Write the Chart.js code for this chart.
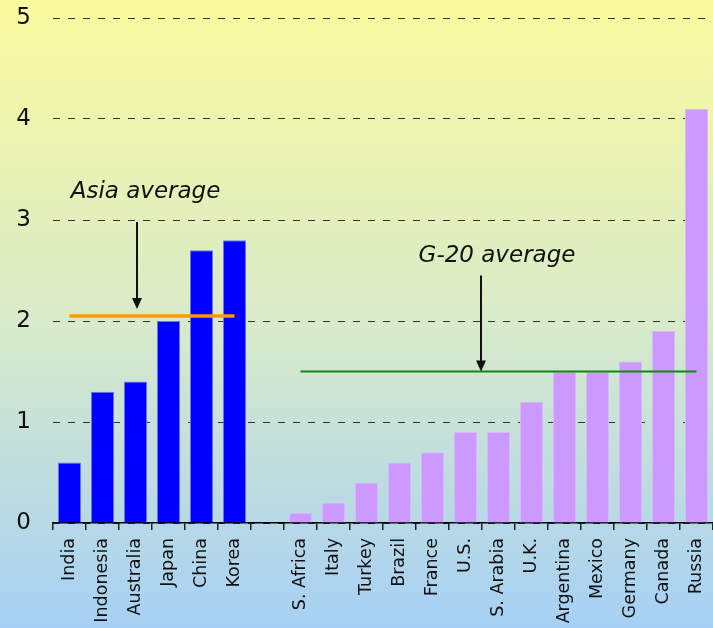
<!DOCTYPE html>
<html>
<head>
<meta charset="utf-8">
<script src="https://cdn.jsdelivr.net/npm/chart.js@4/dist/chart.umd.min.js"></script>
<style>
  html, body { margin: 0; padding: 0; }
  #wrap { width: 713px; height: 628px; position: relative; }
</style>
</head>
<body>
<div id="wrap"><canvas id="chart" width="713" height="628"></canvas></div>
<script>
// Asian economies
const asiaCountries = ['India', 'Indonesia', 'Australia', 'Japan', 'China', 'Korea'];
const asiaValues = [0.6, 1.3, 1.4, 2.0, 2.7, 2.8];
const asiaAverage = 2.05;

// Remaining G-20 economies
const g20Countries = ['S. Africa', 'Italy', 'Turkey', 'Brazil', 'France', 'U.S.', 'S. Arabia',
  'U.K.', 'Argentina', 'Mexico', 'Germany', 'Canada', 'Russia'];
const g20Values = [0.1, 0.2, 0.4, 0.6, 0.7, 0.9, 0.9, 1.2, 1.5, 1.5, 1.6, 1.9, 4.1];
const g20Average = 1.5;

// Y axis ticks
const yTicks = [0, 1, 2, 3, 4, 5];

const labels = [...asiaCountries, '', ...g20Countries];
const barValues = [...asiaValues, null, ...g20Values];
const barColors = [...asiaCountries.map(() => '#0000FF'), 'transparent', ...g20Countries.map(() => '#CC99FF')];
const barEdges = [...asiaCountries.map(() => '#7070FF'), 'transparent', ...g20Countries.map(() => '#D9B8FF')];

const asiaLine = labels.map((_, i) => i < asiaCountries.length ? asiaAverage : null);
const g20Line = labels.map((_, i) => i > asiaCountries.length ? g20Average : null);

const FONT = '"DejaVu Sans", Verdana, sans-serif';

// Full-canvas yellow-to-blue wash behind everything
const backdrop = {
  id: 'backdrop',
  beforeDraw(chart) {
    const { ctx, width, height } = chart;
    const g = ctx.createLinearGradient(0, 0, 0, height);
    g.addColorStop(0, '#FAFA9E');
    g.addColorStop(0.5, '#D9EBC8');
    g.addColorStop(1, '#A6D0F5');
    ctx.save();
    ctx.fillStyle = g;
    ctx.fillRect(0, 0, width, height);
    ctx.restore();
  }
};

// Italic captions with arrows pointing at the average lines
const callouts = {
  id: 'callouts',
  afterDatasetsDraw(chart) {
    const { ctx, scales: { x, y } } = chart;
    const between = (i) => (x.getPixelForValue(i) + x.getPixelForValue(i + 1)) / 2;
    const items = [
      { text: 'Asia average', tCenter: x.getPixelForValue(2) + 10, ty: 3.28, ax: x.getPixelForValue(2) + 1.5, from: 2.98, to: asiaAverage + 0.07 },
      { text: 'G-20 average', tCenter: between(12) + 15, ty: 2.64, ax: between(12) - 1, from: 2.45, to: g20Average }
    ];
    ctx.save();
    ctx.font = 'italic 23px ' + FONT;
    ctx.fillStyle = '#111';
    ctx.strokeStyle = '#111';
    ctx.textAlign = 'center';
    ctx.textBaseline = 'middle';
    items.forEach(it => {
      ctx.fillText(it.text, it.tCenter, y.getPixelForValue(it.ty));
      const y0 = y.getPixelForValue(it.from);
      const y1 = y.getPixelForValue(it.to);
      ctx.lineWidth = 2;
      ctx.beginPath();
      ctx.moveTo(it.ax, y0);
      ctx.lineTo(it.ax, y1 - 9);
      ctx.stroke();
      ctx.beginPath();
      ctx.moveTo(it.ax - 5, y1 - 11);
      ctx.lineTo(it.ax + 5, y1 - 11);
      ctx.lineTo(it.ax, y1);
      ctx.closePath();
      ctx.fill();
    });
    ctx.restore();
  }
};

new Chart(document.getElementById('chart'), {
  data: {
    labels: labels,
    datasets: [
      {
        type: 'line',
        data: asiaLine,
        borderColor: '#FF9900',
        borderWidth: 3.5,
        pointRadius: 0,
        order: 0
      },
      {
        type: 'line',
        data: g20Line,
        borderColor: '#118811',
        borderWidth: 2,
        pointRadius: 0,
        order: 0
      },
      {
        type: 'bar',
        data: barValues,
        backgroundColor: barColors,
        borderColor: barEdges,
        borderWidth: { top: 1, left: 1, right: 1, bottom: 0 },
        categoryPercentage: 1,
        barPercentage: 0.7,
        order: 1
      }
    ]
  },
  options: {
    responsive: false,
    animation: false,
    layout: { padding: { top: 18, right: 0, left: 0, bottom: 0 } },
    plugins: { legend: { display: false }, tooltip: { enabled: false } },
    scales: {
      x: {
        grid: { drawOnChartArea: false, drawTicks: true, tickLength: 7, color: '#222', lineWidth: 1.5 },
        border: { display: true, color: '#000', width: 1.5 },
        ticks: {
          autoSkip: false,
          minRotation: 90,
          maxRotation: 90,
          padding: 8,
          color: '#111',
          font: { family: FONT, size: 17.5 }
        },
        afterFit(scale) {
          scale.height = 105;
          scale.paddingLeft = 0;
          scale.paddingRight = 0;
        }
      },
      y: {
        min: 0,
        max: 5,
        afterBuildTicks(scale) { scale.ticks = yTicks.map(v => ({ value: v })); },
        grid: { drawTicks: false, color: '#333', lineWidth: 1 },
        border: { display: false, dash: [7, 8] },
        ticks: {
          padding: 22,
          color: '#111',
          font: { family: FONT, size: 23 }
        },
        afterFit(scale) {
          scale.width = 53;
          scale.paddingTop = 0;
          scale.paddingBottom = 0;
        }
      }
    }
  },
  plugins: [backdrop, callouts]
});
</script>
</body>
</html>
